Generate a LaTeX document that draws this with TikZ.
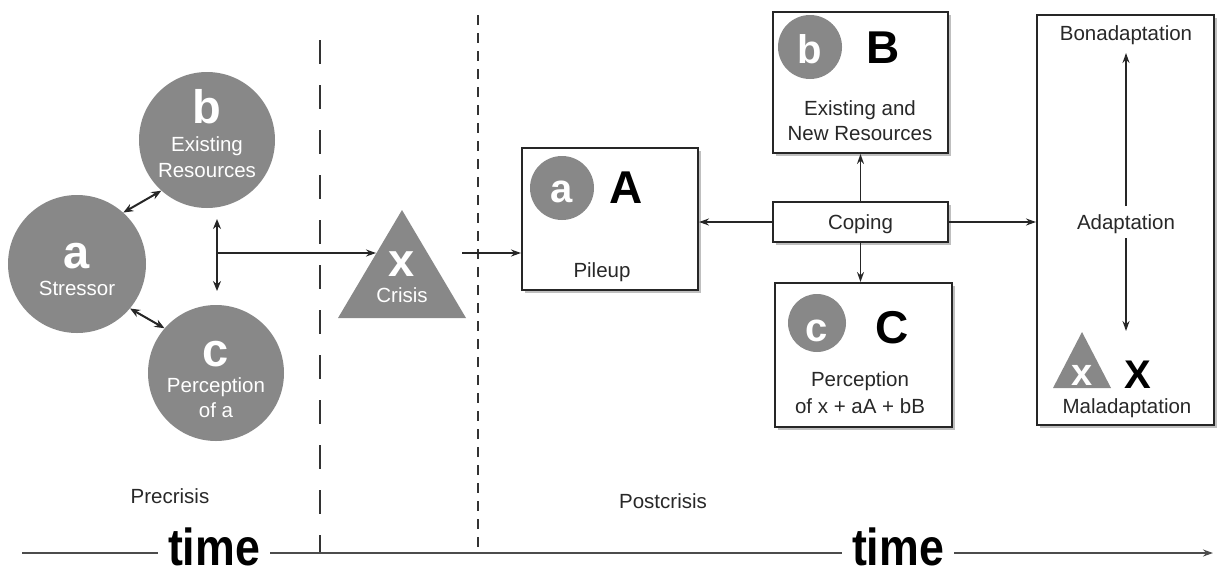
\documentclass[tikz,border=0pt]{standalone}
\usepackage{fontspec}
\setmainfont{Liberation Sans}
\usetikzlibrary{arrows.meta,shadows}
\definecolor{circgray}{RGB}{136,136,136}
\definecolor{txtgray}{RGB}{40,40,40}
\tikzset{
  circ/.style={circle,fill=circgray,draw=none,inner sep=0pt},
  bigletter/.style={text=white,font=\fontsize{47}{47}\selectfont\bfseries,anchor=base,inner sep=0pt},
  midletter/.style={text=white,font=\fontsize{40}{40}\selectfont\bfseries,anchor=base,inner sep=0pt},
  capletter/.style={text=black,font=\fontsize{46}{46}\selectfont\bfseries,anchor=base,inner sep=0pt},
  wtxt/.style={text=white,font=\fontsize{20.5}{20.5}\selectfont,anchor=base,inner sep=0pt},
  btxt/.style={text=txtgray,font=\fontsize{20.5}{20.5}\selectfont,anchor=base,inner sep=0pt},
  box/.style={rectangle,draw=black!85,line width=2pt,fill=white,inner sep=0pt,
    drop shadow={shadow xshift=3pt,shadow yshift=-3pt,fill=black!25,opacity=1}},
  conn/.style={line width=1.8pt,draw=black!85,-{Stealth[length=10pt,width=7pt]}},
  dconn/.style={line width=2pt,draw=black!85,{Stealth[length=10pt,width=8pt]}-{Stealth[length=10pt,width=8pt]}},
  plain/.style={line width=1.8pt,draw=black!70},
  timetxt/.style={text=black,inner sep=0pt,anchor=base}
}
\begin{document}
\begin{tikzpicture}[x=1pt,y=-1pt]
\useasboundingbox (0,0) rectangle (1225,576);
% precrisis circles
\node[circ,minimum size=138pt] (ca) at (77,264) {};
\node[circ,minimum size=136pt] (cb) at (207,140) {};
\node[circ,minimum size=136pt] (cc) at (216,373) {};
\node[bigletter] (ca-l) at (77,268) {a};
\node[wtxt] (ca-t) at (77,295) {Stressor};
\node[bigletter] (cb-l) at (207,123) {b};
\node[wtxt] (cb-t1) at (207,151) {Existing};
\node[wtxt] (cb-t2) at (207,177) {Resources};
\node[bigletter] (cc-l) at (216,366) {c};
\node[wtxt] (cc-t1) at (216,392) {Perception};
\node[wtxt] (cc-t2) at (216,417) {of a};
\draw[dconn] (ca.48) -- (cb.228);
\draw[dconn] (ca.-40) -- (cc.139);
\coordinate (vtop) at (217,219);
\coordinate (vbot) at (217,291);
\coordinate (vmid) at (217,253);
\draw[dconn] (vtop) -- (vbot);
% crisis triangle
\coordinate (crA) at (402,210);
\coordinate (crL) at (338,318);
\coordinate (crR) at (466,318);
\fill[circgray] (crA) -- (crR) -- (crL) -- cycle;
\coordinate (crin) at (376,253);
\coordinate (crout) at (462,253);
\node[bigletter] (cr-l) at (402,276) {x};
\node[wtxt] (cr-t) at (402,302) {Crisis};
\draw[conn,line width=1.5pt] (vmid) -- (crin);
% dashed lines
\coordinate (d1t) at (320,40);
\coordinate (d1b) at (320,553);
\coordinate (d2t) at (478,15);
\coordinate (d2b) at (478,553);
\draw[line width=1.5pt,black!80,dash pattern=on 24pt off 21pt] (d1t) -- (d1b);
\draw[line width=2pt,black!80,dash pattern=on 10pt off 8pt] (d2t) -- (d2b);
% pileup box
\node[box,minimum width=176pt,minimum height=142pt] (pile) at (610,219) {};
\node[circ,minimum size=64pt] (pile-c) at (562,188) {};
\node[midletter] (pile-cl) at (562,202) {a};
\node[capletter] (pile-A) at (626,203) {A};
\node[btxt] (pile-t) at (602,277) {Pileup};
\draw[conn] (crout) -- (crout -| pile.west);
% B box
\node[box,minimum width=175pt,minimum height=141pt] (bbox) at (860.5,82.5) {};
\node[circ,minimum size=64pt] (bbox-c) at (810,47) {};
\node[midletter] (bbox-cl) at (810,63) {b};
\node[capletter] (bbox-B) at (883,63) {B};
\node[btxt] (bbox-t1) at (860,115) {Existing and};
\node[btxt] (bbox-t2) at (860,140) {New Resources};
% Coping box
\node[box,minimum width=175pt,minimum height=40pt] (coping) at (860.5,222) {};
\node[btxt] (coping-t) at (860.5,229) {Coping};
% C box
\node[box,minimum width=177pt,minimum height=144pt] (cbox) at (863.5,355) {};
\node[circ,minimum size=58pt] (cbox-c) at (817,323) {};
\node[midletter] (cbox-cl) at (817,341) {c};
\node[capletter] (cbox-C) at (892,343) {C};
\node[btxt] (cbox-t1) at (860,386) {Perception};
\node[btxt] (cbox-t2) at (860,413) {of x + aA + bB};
% adaptation box
\node[box,minimum width=177pt,minimum height=410pt] (adapt) at (1125.5,220) {};
\node[btxt] (bona) at (1126,40) {Bonadaptation};
\node[btxt] (adaptt) at (1126,229) {Adaptation};
\node[btxt] (mala) at (1127,413) {Maladaptation};
\coordinate (upend) at (1126,53);
\coordinate (upstart) at (1126,206);
\coordinate (dnstart) at (1126,238);
\coordinate (dnend) at (1126,331);
\draw[conn,line width=1.5pt] (upstart) -- (upend);
\draw[conn,line width=1.5pt] (dnstart) -- (dnend);
\coordinate (stA) at (1082,332);
\coordinate (stL) at (1053,388);
\coordinate (stR) at (1111,388);
\fill[circgray] (stA) -- (stR) -- (stL) -- cycle;
\node[text=white,font=\fontsize{38}{38}\selectfont\bfseries,anchor=base,inner sep=0pt] (st-l) at (1082,385) {x};
\node[text=black,font=\fontsize{40}{40}\selectfont\bfseries,anchor=base,inner sep=0pt] (bigX) at (1138,388) {X};
% connectors
\draw[conn] (coping.west) -- (coping.west -| pile.east);
\draw[conn] (coping.east) -- (coping.east -| adapt.west);
\draw[conn] (coping.north) -- (bbox.south);
\draw[conn] (coping.south) -- (coping.south |- cbox.north);
% labels
\node[btxt] (pre) at (170,503) {Precrisis};
\node[btxt] (post) at (663,508) {Postcrisis};
% timeline
\node[timetxt] (time1) at (214,565) {\scalebox{0.86}[1]{\fontsize{52}{52}\selectfont\bfseries time}};
\node[timetxt] (time2) at (898,565) {\scalebox{0.86}[1]{\fontsize{52}{52}\selectfont\bfseries time}};
\coordinate (tl0) at (22,553);
\coordinate (tl1) at (1213,553);
\draw[plain] (tl0) -- ([xshift=-10pt]time1.west |- tl0);
\draw[plain] ([xshift=10pt]time1.east |- tl0) -- ([xshift=-10pt]time2.west |- tl0);
\draw[plain,-{Stealth[length=10pt,width=7pt]}] ([xshift=10pt]time2.east |- tl0) -- (tl1);
\end{tikzpicture}
\end{document}
